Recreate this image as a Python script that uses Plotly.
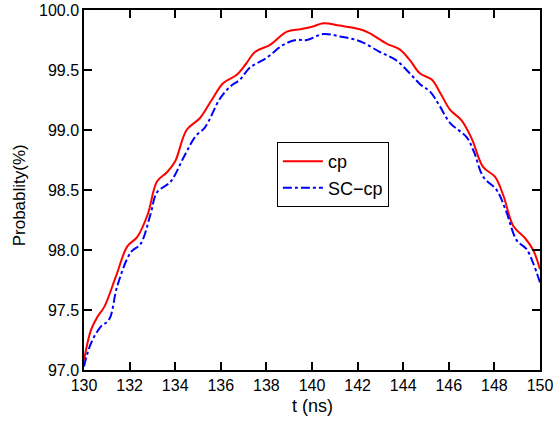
import plotly.graph_objects as go

t_cp = [130.0, 130.3, 130.58, 130.9, 131.4, 131.9, 132.34, 132.8, 133.2, 133.65,
        134.0, 134.5, 135.09, 135.6, 136.1, 136.7, 137.1, 137.5, 138.16, 138.9,
        139.5, 140.0, 140.5, 141.2, 142.1, 142.5, 143.27, 143.86, 144.3, 144.74,
        145.25, 145.65, 146.05, 146.56, 147.0, 147.51, 148.03, 148.4, 148.83, 149.34,
        149.7, 150.0]
p_cp = [97.08, 97.33, 97.44, 97.53, 97.78, 98.03, 98.11, 98.30, 98.57, 98.65,
        98.74, 99.00, 99.10, 99.25, 99.39, 99.46, 99.55, 99.65, 99.71, 99.82,
        99.84, 99.86, 99.89, 99.87, 99.84, 99.81, 99.72, 99.67, 99.58, 99.47,
        99.42, 99.30, 99.17, 99.08, 98.93, 98.69, 98.61, 98.45, 98.20, 98.10,
        98.00, 97.84]

t_sc = [130.0, 130.3, 130.73, 131.1, 131.46, 132.05, 132.48, 132.92, 133.2, 133.8,
        134.39, 134.9, 135.3, 135.96, 136.4, 136.84, 137.28, 138.0, 138.74, 139.3,
        139.77, 140.5, 141.23, 142.1, 142.98, 143.7, 144.3, 144.75, 145.18, 145.6,
        146.05, 146.78, 147.1, 147.51, 148.1, 148.5, 148.98, 149.4, 149.7, 150.0]
p_sc = [97.03, 97.22, 97.36, 97.42, 97.70, 97.98, 98.05, 98.30, 98.48, 98.57,
        98.78, 98.95, 99.02, 99.26, 99.36, 99.42, 99.52, 99.60, 99.71, 99.75,
        99.75, 99.80, 99.78, 99.74, 99.65, 99.58, 99.47, 99.38, 99.32, 99.20,
        99.06, 98.94, 98.82, 98.61, 98.50, 98.33, 98.08, 98.01, 97.89, 97.73]

x_ticks = [130, 132, 134, 136, 138, 140, 142, 144, 146, 148, 150]
y_ticks = [97.0, 97.5, 98.0, 98.5, 99.0, 99.5, 100.0]

font = "Liberation Sans, Arial, Helvetica, sans-serif"

fig = go.Figure()
fig.add_trace(go.Scatter(x=t_cp, y=p_cp, mode="lines", name="cp",
                         line=dict(color="#ff0000", width=2, shape="spline", smoothing=1.0)))
fig.add_trace(go.Scatter(x=t_sc, y=p_sc, mode="lines", name="SC\u2212cp",
                         line=dict(color="#0000ff", width=2, dash="dashdot", shape="spline", smoothing=1.0)))

axis_common = dict(showline=True, linecolor="black", linewidth=1.5, mirror="ticks",
                   ticks="inside", ticklen=8, tickwidth=1.5, tickcolor="black",
                   showgrid=False, zeroline=False, automargin=False,
                   ticklabeloverflow="allow",
                   tickfont=dict(family=font, size=16, color="black"))

fig.update_xaxes(range=[130, 150], tickvals=x_ticks, **axis_common)
fig.update_yaxes(range=[97, 100], tickvals=y_ticks, tickformat=".1f", **axis_common)

fig.add_annotation(text="t (ns)", xref="paper", yref="paper", x=0.5, y=-0.1,
                   xanchor="center", yanchor="middle", showarrow=False,
                   font=dict(family=font, size=18, color="black"))
fig.add_annotation(text="Probablity(%)", xref="paper", yref="paper", x=-0.142, y=0.486,
                   xanchor="center", yanchor="middle", showarrow=False, textangle=-90,
                   font=dict(family=font, size=17, color="black"))

fig.update_layout(
    width=553, height=421,
    margin=dict(l=84, r=13, t=10, b=51, autoexpand=False),
    paper_bgcolor="white", plot_bgcolor="white",
    font=dict(family=font, size=16, color="black"),
    legend=dict(x=0.423, y=0.633, xanchor="left", yanchor="top",
                bgcolor="white", bordercolor="black", borderwidth=1,
                font=dict(family=font, size=18, color="black"),
                tracegroupgap=0, itemwidth=40),
    showlegend=True,
)

fig.write_html("out.html", config={"displayModeBar": False},
               post_script="document.body.style.margin='0px';")
